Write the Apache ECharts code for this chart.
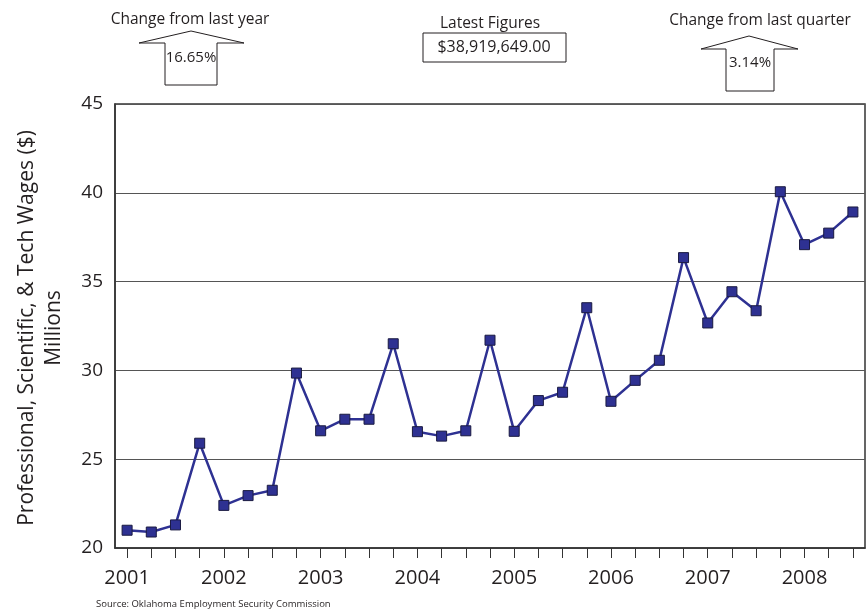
<!DOCTYPE html>
<html>
<head>
<meta charset="utf-8">
<script src="https://cdn.jsdelivr.net/npm/echarts@6/dist/echarts.min.js"></script>
<style>html,body{margin:0;padding:0;background:#fff}#c{width:868px;height:610px}</style>
</head>
<body>
<div id="c"></div>
<script>
var quarters = ["2001 Q1","2001 Q2","2001 Q3","2001 Q4","2002 Q1","2002 Q2","2002 Q3","2002 Q4",
"2003 Q1","2003 Q2","2003 Q3","2003 Q4","2004 Q1","2004 Q2","2004 Q3","2004 Q4",
"2005 Q1","2005 Q2","2005 Q3","2005 Q4","2006 Q1","2006 Q2","2006 Q3","2006 Q4",
"2007 Q1","2007 Q2","2007 Q3","2007 Q4","2008 Q1","2008 Q2","2008 Q3"];
var wages = [21.0,20.9,21.3,25.9,22.4,22.95,23.25,29.85,26.6,27.25,27.25,31.5,26.55,26.3,26.6,31.7,
26.57,28.3,28.77,33.53,28.26,29.44,30.57,36.35,32.67,34.43,33.36,40.06,37.08,37.73,38.92];
var yTicks = [20,25,30,35,40,45];
var yearLabels = ["2001","2002","2003","2004","2005","2006","2007","2008"];

var txt = '#231f20';
var font = '"Open Sans", "Noto Sans", sans-serif';
var chart = echarts.init(document.getElementById('c'));
function arrow(tipX, tipY, baseY, headL, headR, shaftL, shaftR, bottom){
  return {type:'polygon', shape:{points:[[tipX,tipY],[headR,baseY],[shaftR,baseY],[shaftR,bottom],[shaftL,bottom],[shaftL,baseY],[headL,baseY]]},
    style:{fill:'#fff', stroke:'#231f20', lineWidth:1}};
}
chart.setOption({
  animation:false,
  grid:{left:115, right:3, top:104, bottom:62, show:true, borderColor:'#333', borderWidth:1.5, backgroundColor:'#fff'},
  xAxis:{type:'category', data:quarters, boundaryGap:true,
    axisLine:{show:true, lineStyle:{color:'#333', width:1.5}},
    axisTick:{show:true, alignWithLabel:true, interval:0, length:10, lineStyle:{color:'#333', width:1}},
    axisLabel:{interval:3, margin:20, fontSize:20, color:txt, fontFamily:font,
      formatter:function(v){return v.slice(0,4);}}
  },
  yAxis:{type:'value', min:yTicks[0], max:yTicks[yTicks.length-1], interval:5,
    axisLine:{show:true, lineStyle:{color:'#333', width:1.5}},
    axisTick:{show:false},
    splitLine:{lineStyle:{color:'#555', width:1}},
    axisLabel:{fontSize:19, color:txt, fontFamily:font, margin:12}
  },
  series:[{type:'line', data:wages, symbol:'rect', symbolSize:10,
    lineStyle:{color:'#2e3192', width:2.5},
    itemStyle:{color:'#2e3192', borderColor:'#1a1a40', borderWidth:1}
  }],
  graphic:[
    {type:'text', x:41, y:328, rotation:Math.PI/2, style:{text:'Professional, Scientific, & Tech Wages ($)\nMillions', align:'center', verticalAlign:'middle', fontSize:21, lineHeight:27, fill:txt, fontFamily:font}},
    {type:'text', x:96, y:604, style:{text:'Source: Oklahoma Employment Security Commission', align:'left', verticalAlign:'middle', fontSize:9.5, fill:txt, fontFamily:font}},
    {type:'text', x:190, y:20, style:{text:'Change from last year', align:'center', verticalAlign:'middle', fontSize:15.5, fill:txt, fontFamily:font}},
    arrow(191,31,43,139,244,165,217,85),
    {type:'text', x:191, y:58, z:10, style:{text:'16.65%', align:'center', verticalAlign:'middle', fontSize:15, fill:txt, fontFamily:font}},
    {type:'text', x:490, y:24, style:{text:'Latest Figures', align:'center', verticalAlign:'middle', fontSize:15.5, fill:txt, fontFamily:font}},
    {type:'rect', shape:{x:423, y:33, width:143, height:29}, style:{fill:'#fff', stroke:'#231f20', lineWidth:1}},
    {type:'text', x:494, y:47, z:10, style:{text:'$38,919,649.00', align:'center', verticalAlign:'middle', fontSize:16, fill:txt, fontFamily:font}},
    {type:'text', x:760, y:21, style:{text:'Change from last quarter', align:'center', verticalAlign:'middle', fontSize:15.5, fill:txt, fontFamily:font}},
    arrow(749,36,49,701,798,726,774,91),
    {type:'text', x:750, y:63, z:10, style:{text:'3.14%', align:'center', verticalAlign:'middle', fontSize:15, fill:txt, fontFamily:font}}
  ]
});
</script>
</body>
</html>
